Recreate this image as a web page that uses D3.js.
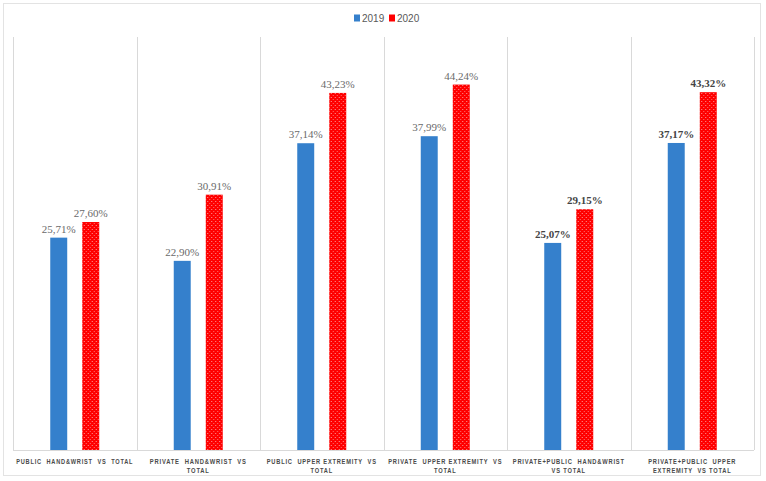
<!DOCTYPE html>
<html>
<head>
<meta charset="utf-8">
<script src="https://cdn.jsdelivr.net/npm/d3@7"></script>
<style>
  body { margin: 0; background: #fff; }
  svg { display: block; }
</style>
</head>
<body>
<svg id="chart" width="766" height="481"></svg>
<script>
// data
var categories = ['c1', 'c2', 'c3', 'c4', 'c5', 'c6'];
var categoryLines = [
  ['PUBLIC  HAND&WRIST  VS  TOTAL'],
  ['PRIVATE  HAND&WRIST  VS', 'TOTAL'],
  ['PUBLIC  UPPER EXTREMITY  VS', 'TOTAL'],
  ['PRIVATE  UPPER EXTREMITY  VS', 'TOTAL'],
  ['PRIVATE+PUBLIC  HAND&WRIST', 'VS TOTAL'],
  ['PRIVATE+PUBLIC  UPPER', 'EXTREMITY  VS TOTAL']
];
var labelWidths = [117, 97, 110, 114, 112, 88];   // first-line widths as in the picture
var seriesNames = ['2019', '2020'];
var values2019 = [25.71, 22.90, 37.14, 37.99, 25.07, 37.17];
var values2020 = [27.60, 30.91, 43.23, 44.24, 29.15, 43.32];
var boldLabels = [false, false, false, false, true, true];

var plot = {left: 13, right: 754, top: 37, bottom: 450};

var svg = d3.select('#chart');

// red dotted fill
var defs = svg.append('defs');
var pat = defs.append('pattern')
  .attr('id', 'dots')
  .attr('width', 4).attr('height', 4)
  .attr('patternUnits', 'userSpaceOnUse');
pat.append('rect').attr('width', 4).attr('height', 4).attr('fill', '#ff0000');
pat.append('rect').attr('x', 1).attr('y', 1).attr('width', 1).attr('height', 1).attr('fill', '#ff9a9a');
pat.append('rect').attr('x', 3).attr('y', 3).attr('width', 1).attr('height', 1).attr('fill', '#ff7070');

// outer frame
svg.append('rect')
  .attr('x', 3.5).attr('y', 3.5)
  .attr('width', 757).attr('height', 472)
  .attr('fill', 'none').attr('stroke', '#e3e3e3');

var x = d3.scaleBand().domain(categories).range([plot.left, plot.right]).padding(0);
var y = d3.scaleLinear().domain([0, 50]).range([plot.bottom, plot.top]);
var xs = d3.scaleBand().domain(seriesNames).range([-24.5, 24.5]).paddingInner(0.47);
var colors = {'2019': '#3580cc', '2020': 'url(#dots)'};

// separators between categories
var bounds = categories.map(function(c) { return x(c); }).concat([plot.right]);
svg.append('g').selectAll('line')
  .data(bounds)
  .enter().append('line')
  .attr('x1', function(d) { return Math.round(d) + 0.5; })
  .attr('x2', function(d) { return Math.round(d) + 0.5; })
  .attr('y1', plot.top).attr('y2', plot.bottom)
  .attr('stroke', '#d9d9d9');

svg.append('line')
  .attr('x1', plot.left).attr('x2', plot.right)
  .attr('y1', plot.bottom + 0.5).attr('y2', plot.bottom + 0.5)
  .attr('stroke', '#d9d9d9');

var rows = categories.map(function(c, i) {
  return {cat: c, i: i, vals: [
    {s: '2019', v: values2019[i]},
    {s: '2020', v: values2020[i]}
  ]};
});

var groups = svg.append('g').selectAll('g')
  .data(rows)
  .enter().append('g')
  .attr('transform', function(d) { return 'translate(' + (x(d.cat) + x.bandwidth() / 2) + ',0)'; });

groups.selectAll('rect')
  .data(function(d) { return d.vals; })
  .enter().append('rect')
  .attr('x', function(d) { return xs(d.s); })
  .attr('width', xs.bandwidth())
  .attr('y', function(d) { return y(d.v); })
  .attr('height', function(d) { return y(0) - y(d.v); })
  .attr('fill', function(d) { return colors[d.s]; });

groups.selectAll('text.val')
  .data(function(d) { return d.vals.map(function(v) { return {s: v.s, v: v.v, bold: boldLabels[d.i]}; }); })
  .enter().append('text')
  .attr('class', 'val')
  .attr('x', function(d) { return xs(d.s) + xs.bandwidth() / 2; })
  .attr('y', function(d) { return y(d.v) - 5; })
  .attr('text-anchor', 'middle')
  .attr('font-family', 'Liberation Serif, serif')
  .attr('font-size', 11)
  .attr('font-weight', function(d) { return d.bold ? 'bold' : 'normal'; })
  .attr('fill', function(d) { return d.bold ? '#444' : '#6a6a6a'; })
  .text(function(d) { return d.v.toFixed(2).replace('.', ',') + '%'; });

// category labels
var catText = groups.append('text')
  .attr('text-anchor', 'middle')
  .attr('font-family', 'Liberation Sans Narrow, Liberation Sans, sans-serif')
  .attr('font-size', 6.5)
  .attr('font-weight', 'bold')
  .attr('letter-spacing', 0.9)
  .attr('fill', '#4a4a4a')
  .style('white-space', 'pre');

catText.selectAll('tspan')
  .data(function(d) { return categoryLines[d.i]; })
  .enter().append('tspan')
  .attr('x', 0)
  .attr('y', function(d, j) { return 463.5 + j * 9.5; })
  .text(function(d) { return d; });

// squeeze each line so the first line matches the measured width
catText.each(function(d) {
  var spans = d3.select(this).selectAll('tspan').nodes();
  var w0 = spans[0].getComputedTextLength();
  var k = Math.min(1, labelWidths[d.i] / w0);
  spans.forEach(function(s) {
    var w = s.getComputedTextLength();
    if (k < 1) {
      d3.select(s).attr('textLength', w * k).attr('lengthAdjust', 'spacingAndGlyphs');
    }
  });
});

// legend
var legend = svg.append('g').attr('transform', 'translate(354,18)');
var li = legend.selectAll('g')
  .data(seriesNames)
  .enter().append('g')
  .attr('transform', function(d, i) { return 'translate(' + (i * 35) + ',0)'; });
li.append('rect')
  .attr('x', 0).attr('y', -3.5).attr('width', 6).attr('height', 7)
  .attr('fill', function(d) { return d === '2019' ? '#3580cc' : '#ff0000'; });
li.append('text')
  .attr('x', 8).attr('y', 3.5)
  .attr('font-family', 'Liberation Sans, sans-serif')
  .attr('font-size', 10)
  .attr('fill', '#595959')
  .text(function(d) { return d; });
</script>
</body>
</html>
